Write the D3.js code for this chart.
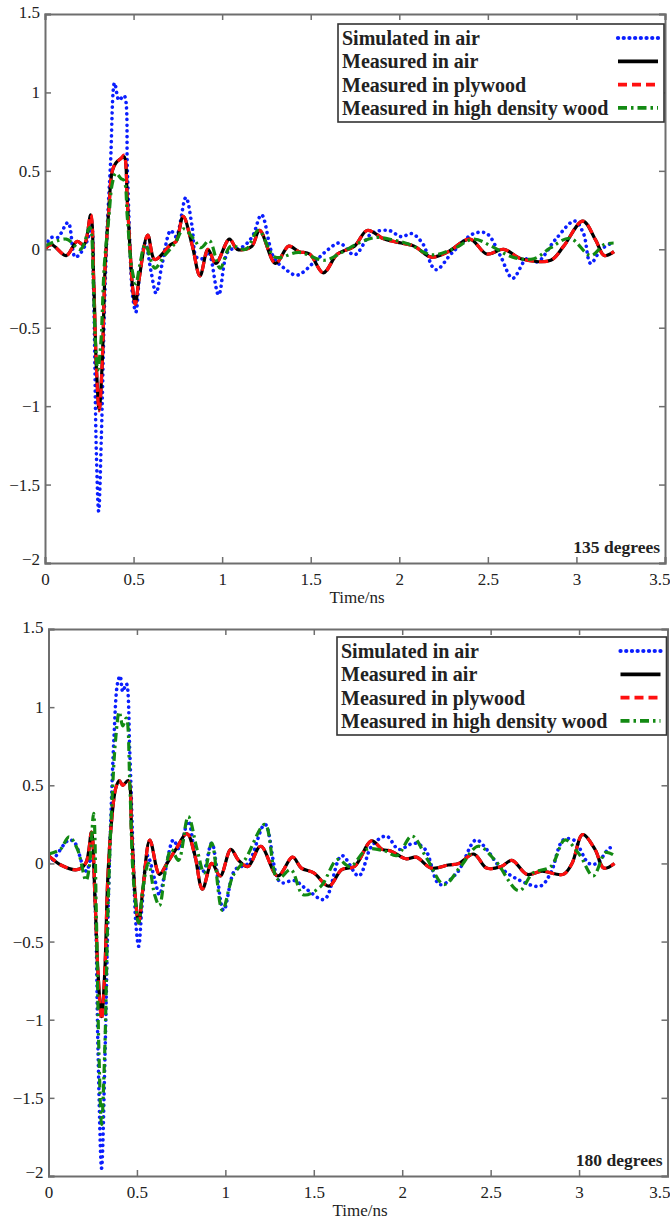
<!DOCTYPE html>
<html>
<head>
<meta charset="utf-8">
<script src="https://cdn.jsdelivr.net/npm/d3@7"></script>
<style>
  html, body { margin: 0; padding: 0; background: #fff; }
  svg { display: block; }
  text { font-family: "Liberation Serif", "Times New Roman", serif; fill: #222; }
</style>
</head>
<body>
<svg id="chart" width="670" height="1222"></svg>
<script>
// ---- Axis ticks ----
const xTicks = [0, 0.5, 1, 1.5, 2, 2.5, 3, 3.5];
const yTicks = [1.5, 1, 0.5, 0, -0.5, -1, -1.5, -2];
const seriesNames = ["Simulated in air", "Measured in air", "Measured in plywood", "Measured in high density wood"];

// ---- 135 degrees: [time (ns), amplitude] ----
const sim135 = [[0,0.02],[0.036,0.075],[0.072,0.075],[0.13,0.17],[0.17,-0.05],[0.2,-0.025],[0.24,0.06],[0.262,0.15],[0.275,-0.3],[0.29,-1.3],[0.303,-1.67],[0.318,-1.2],[0.335,-0.4],[0.35,0.1],[0.37,0.55],[0.393,1.06],[0.418,0.95],[0.446,0.98],[0.465,0.5],[0.48,0.0],[0.495,-0.3],[0.513,-0.40],[0.535,-0.15],[0.566,0.04],[0.6,-0.15],[0.627,-0.28],[0.66,-0.1],[0.71,0.12],[0.74,0.08],[0.795,0.33],[0.83,0.15],[0.855,-0.05],[0.89,-0.06],[0.923,-0.02],[0.98,-0.29],[1.036,-0.01],[1.108,0.01],[1.17,0.08],[1.222,0.22],[1.29,-0.05],[1.35,-0.12],[1.422,-0.165],[1.53,-0.07],[1.6,0.0],[1.663,0.04],[1.747,-0.035],[1.843,0.1],[1.94,0.12],[2.012,0.08],[2.07,0.1],[2.13,0.04],[2.205,-0.13],[2.30,-0.02],[2.42,0.1],[2.494,0.1],[2.57,-0.04],[2.64,-0.185],[2.72,-0.06],[2.78,-0.08],[2.88,0.06],[2.99,0.18],[3.04,0.1],[3.08,-0.09],[3.14,0.0],[3.2,0.04]];
const air135 = [[0,0.0],[0.036,0.03],[0.12,-0.04],[0.18,0.05],[0.22,0.03],[0.258,0.22],[0.275,-0.2],[0.29,-0.75],[0.306,-1.02],[0.322,-0.75],[0.34,-0.1],[0.36,0.25],[0.38,0.5],[0.40,0.55],[0.43,0.58],[0.446,0.59],[0.465,0.3],[0.48,0.0],[0.495,-0.25],[0.51,-0.35],[0.53,-0.2],[0.58,0.09],[0.62,-0.065],[0.71,0.03],[0.74,0.05],[0.78,0.21],[0.83,0.03],[0.875,-0.17],[0.92,0.0],[0.964,-0.09],[1.041,0.065],[1.084,0.0],[1.133,0.0],[1.169,0.02],[1.212,0.12],[1.301,-0.09],[1.376,0.02],[1.434,-0.015],[1.494,-0.03],[1.571,-0.15],[1.651,-0.03],[1.747,0.02],[1.819,0.12],[1.916,0.065],[2.012,0.04],[2.084,0.02],[2.181,-0.05],[2.277,-0.015],[2.398,0.065],[2.494,-0.03],[2.590,0.0],[2.687,-0.06],[2.855,-0.07],[2.928,0.02],[3.036,0.18],[3.108,0.06],[3.157,-0.04],[3.212,-0.015]];
const ply135 = [[0,0.0],[0.036,0.03],[0.12,-0.04],[0.18,0.05],[0.22,0.03],[0.258,0.22],[0.275,-0.2],[0.29,-0.75],[0.306,-1.03],[0.322,-0.75],[0.34,-0.1],[0.36,0.25],[0.38,0.5],[0.40,0.55],[0.43,0.58],[0.446,0.60],[0.465,0.3],[0.48,0.0],[0.495,-0.25],[0.51,-0.35],[0.53,-0.2],[0.58,0.09],[0.62,-0.065],[0.71,0.03],[0.74,0.05],[0.78,0.21],[0.83,0.03],[0.875,-0.17],[0.92,0.0],[0.964,-0.09],[1.041,0.065],[1.084,0.0],[1.133,0.0],[1.169,0.02],[1.212,0.12],[1.301,-0.09],[1.376,0.02],[1.434,-0.015],[1.494,-0.03],[1.571,-0.15],[1.651,-0.03],[1.747,0.02],[1.819,0.12],[1.916,0.065],[2.012,0.04],[2.084,0.02],[2.181,-0.05],[2.277,-0.015],[2.398,0.065],[2.494,-0.03],[2.590,0.0],[2.687,-0.06],[2.855,-0.07],[2.928,0.02],[3.036,0.18],[3.108,0.06],[3.157,-0.04],[3.212,-0.015]];
const hdw135 = [[0,0.02],[0.12,0.065],[0.2,0.0],[0.253,0.14],[0.272,-0.2],[0.285,-0.6],[0.298,-0.77],[0.315,-0.6],[0.335,-0.1],[0.36,0.2],[0.38,0.42],[0.40,0.485],[0.43,0.45],[0.446,0.44],[0.465,0.2],[0.49,-0.12],[0.513,-0.22],[0.535,-0.1],[0.566,0.03],[0.62,-0.12],[0.675,-0.04],[0.735,0.04],[0.783,0.13],[0.843,0.06],[0.88,0.01],[0.928,0.055],[0.988,-0.12],[1.048,0.02],[1.133,0.0],[1.205,0.12],[1.3,-0.05],[1.434,-0.02],[1.578,-0.07],[1.675,-0.02],[1.771,0.04],[1.867,0.075],[1.964,0.06],[2.06,0.03],[2.18,-0.035],[2.30,0.0],[2.42,0.065],[2.52,0.02],[2.64,-0.05],[2.76,-0.06],[2.855,0.01],[2.964,0.07],[3.08,-0.04],[3.157,0.03],[3.21,0.04]];

// ---- 180 degrees: [time (ns), amplitude] ----
const sim180 = [[0.0,0.0],[0.03,0.03],[0.116,0.15],[0.15,0.13],[0.19,0.0],[0.215,-0.05],[0.245,0.05],[0.265,-0.3],[0.28,-1.2],[0.30,-1.95],[0.318,-1.3],[0.335,-0.4],[0.35,0.2],[0.37,0.8],[0.39,1.15],[0.405,1.2],[0.42,1.1],[0.44,1.15],[0.46,0.7],[0.48,0.0],[0.495,-0.4],[0.51,-0.53],[0.53,-0.25],[0.56,0.05],[0.6,-0.1],[0.627,-0.2],[0.66,-0.05],[0.706,0.15],[0.74,0.09],[0.79,0.27],[0.84,0.0],[0.875,-0.05],[0.923,0.13],[0.99,-0.3],[1.055,-0.04],[1.128,0.0],[1.224,0.25],[1.31,-0.12],[1.39,-0.11],[1.465,-0.17],[1.56,-0.23],[1.658,0.05],[1.754,-0.08],[1.827,0.11],[1.91,0.175],[1.98,0.09],[2.067,0.13],[2.13,0.09],[2.212,-0.135],[2.31,-0.06],[2.417,0.15],[2.477,0.09],[2.55,-0.02],[2.65,-0.1],[2.78,-0.145],[2.84,-0.06],[2.91,0.15],[2.97,0.15],[3.055,0.0],[3.1,0.0],[3.175,0.1],[3.2,0.09]];
const air180 = [[0,0.05],[0.07,-0.01],[0.16,-0.04],[0.21,0.0],[0.243,0.2],[0.262,-0.2],[0.28,-0.7],[0.30,-0.98],[0.318,-0.7],[0.335,-0.1],[0.355,0.25],[0.38,0.48],[0.40,0.53],[0.42,0.50],[0.45,0.53],[0.47,0.2],[0.49,-0.2],[0.51,-0.38],[0.535,-0.15],[0.573,0.15],[0.627,-0.07],[0.67,0.0],[0.72,0.09],[0.783,0.19],[0.826,0.06],[0.87,-0.165],[0.923,0.0],[0.971,-0.08],[1.031,0.09],[1.075,0.02],[1.128,-0.02],[1.2,0.11],[1.296,-0.08],[1.38,0.04],[1.43,-0.03],[1.5,-0.06],[1.585,-0.145],[1.658,-0.04],[1.73,-0.02],[1.827,0.145],[1.887,0.09],[1.935,0.08],[2.02,0.03],[2.08,0.04],[2.164,-0.03],[2.26,-0.01],[2.32,0.0],[2.405,0.06],[2.477,-0.03],[2.56,-0.02],[2.62,0.02],[2.706,-0.07],[2.79,-0.05],[2.91,-0.07],[2.96,0.0],[3.02,0.185],[3.09,0.09],[3.14,-0.03],[3.2,0.0]];
const ply180 = [[0,0.05],[0.07,-0.01],[0.16,-0.04],[0.21,0.0],[0.243,0.2],[0.262,-0.2],[0.28,-0.7],[0.30,-1.0],[0.318,-0.7],[0.335,-0.1],[0.355,0.25],[0.38,0.48],[0.40,0.53],[0.42,0.50],[0.45,0.53],[0.47,0.2],[0.49,-0.2],[0.51,-0.38],[0.535,-0.15],[0.573,0.15],[0.627,-0.07],[0.67,0.0],[0.72,0.09],[0.783,0.19],[0.826,0.06],[0.87,-0.165],[0.923,0.0],[0.971,-0.08],[1.031,0.09],[1.075,0.02],[1.128,-0.02],[1.2,0.11],[1.296,-0.08],[1.38,0.04],[1.43,-0.03],[1.5,-0.06],[1.585,-0.145],[1.658,-0.04],[1.73,-0.02],[1.827,0.145],[1.887,0.09],[1.935,0.08],[2.02,0.03],[2.08,0.04],[2.164,-0.03],[2.26,-0.01],[2.32,0.0],[2.405,0.06],[2.477,-0.03],[2.56,-0.02],[2.62,0.02],[2.706,-0.07],[2.79,-0.05],[2.91,-0.07],[2.96,0.0],[3.02,0.185],[3.09,0.09],[3.14,-0.03],[3.2,0.0]];
const hdw180 = [[0,0.06],[0.067,0.09],[0.116,0.17],[0.164,0.09],[0.212,-0.11],[0.23,-0.03],[0.255,0.32],[0.27,-0.3],[0.285,-1.2],[0.30,-1.67],[0.318,-1.2],[0.335,-0.35],[0.355,0.3],[0.38,0.8],[0.40,0.97],[0.42,0.88],[0.44,0.93],[0.46,0.5],[0.48,-0.1],[0.51,-0.38],[0.535,-0.15],[0.565,0.0],[0.6,-0.2],[0.627,-0.27],[0.66,-0.05],[0.694,0.09],[0.735,0.02],[0.79,0.3],[0.84,0.09],[0.88,-0.06],[0.923,0.13],[0.983,-0.3],[1.043,-0.08],[1.115,0.03],[1.224,0.25],[1.296,-0.1],[1.37,-0.04],[1.44,-0.2],[1.537,-0.15],[1.634,0.025],[1.706,-0.02],[1.80,0.09],[1.9,0.08],[1.97,0.05],[2.055,0.175],[2.14,0.03],[2.236,-0.135],[2.33,-0.02],[2.43,0.11],[2.525,0.02],[2.66,-0.175],[2.74,-0.06],[2.84,-0.02],[2.92,0.15],[3.0,0.06],[3.08,-0.08],[3.15,0.07],[3.2,0.05]];

// ---- Line styles for the four series (legend order) ----
const styles = [
  { color: "#0a1eff", dash: "0.1 5.6", cap: "round", width: 3.6 },
  { color: "#000000", dash: null,      cap: "butt",  width: 3.2 },
  { color: "#ff1010", dash: "9 5",     cap: "butt",  width: 3.2 },
  { color: "#138a13", dash: "9 4 2.5 4", cap: "butt", width: 3.2 }
];

const serif = '"Liberation Serif", "Times New Roman", serif';
const svg = d3.select("#chart");

function drawPanel(cfg) {
  const { left, right, top, bottom, series, label } = cfg;
  const x = d3.scaleLinear().domain([0, 3.5]).range([left, right]);
  const y = d3.scaleLinear().domain([-2, 1.5]).range([bottom, top]);
  const g = svg.append("g");

  // curves, clipped to the plot box
  const clipId = "clip" + Math.round(top);
  svg.append("clipPath").attr("id", clipId)
    .append("rect").attr("x", left).attr("y", top)
    .attr("width", right - left).attr("height", bottom - top);

  const line = d3.line()
    .x(d => x(d[0])).y(d => y(d[1]))
    .curve(d3.curveCatmullRom.alpha(0.5));

  const lines = g.append("g").attr("clip-path", `url(#${clipId})`);
  series.forEach((s, i) => {
    const st = styles[i];
    lines.append("path")
      .attr("d", line(s))
      .attr("fill", "none")
      .attr("stroke", st.color)
      .attr("stroke-width", st.width)
      .attr("stroke-linecap", st.cap)
      .attr("stroke-linejoin", "round")
      .attr("stroke-dasharray", st.dash);
  });

  // axes (ticks pointing inward, box on all four sides)
  const axisColor = "#6e6e6e";
  const tl = 6;
  const axB = g.append("g").attr("transform", `translate(0,${bottom})`)
    .call(d3.axisBottom(x).tickValues(xTicks).tickSize(-tl).tickPadding(tl + 4).tickFormat(d3.format("")));
  const axT = g.append("g").attr("transform", `translate(0,${top})`)
    .call(d3.axisTop(x).tickValues(xTicks).tickSize(-tl).tickFormat(""));
  const axL = g.append("g").attr("transform", `translate(${left},0)`)
    .call(d3.axisLeft(y).tickValues(yTicks).tickSize(-tl).tickPadding(5).tickFormat(d3.format("")));
  const axR = g.append("g").attr("transform", `translate(${right},0)`)
    .call(d3.axisRight(y).tickValues(yTicks).tickSize(-tl).tickFormat(""));
  [axB, axT, axL, axR].forEach(a => {
    a.select(".domain").attr("stroke", axisColor).attr("stroke-width", 2);
    a.selectAll(".tick line").attr("stroke", axisColor).attr("stroke-width", 1.5);
  });
  [axB, axL].forEach(a => a.selectAll(".tick text")
    .style("font-size", "17px").style("font-family", serif).attr("fill", "#222"));
  // keep the last x label inside the frame
  axB.selectAll(".tick").filter(d => d === 3.5).select("text")
    .attr("text-anchor", "end").attr("x", 670 - right);
  // MATLAB places the lowest y label slightly up-left of the corner
  axL.selectAll(".tick").filter(d => d === -2).select("text").attr("dy", "0.1em");
  axL.selectAll(".tick").filter(d => d === 1.5).select("text").attr("dy", "0.2em");

  // x-axis title
  g.append("text")
    .attr("x", (left + right) / 2 + 2).attr("y", bottom + 40)
    .attr("text-anchor", "middle").style("font-size", "17px")
    .text("Time/ns");

  // angle annotation
  g.append("text")
    .attr("x", right - 5).attr("y", bottom - 10)
    .attr("text-anchor", "end").style("font-size", "17.5px").style("font-weight", "bold")
    .text(label);

  // legend
  const lg = g.append("g");
  const lx0 = cfg.legendX, ly0 = cfg.legendY, lw = right - 1 - lx0, lh = 98;
  lg.append("rect").attr("x", lx0).attr("y", ly0).attr("width", lw).attr("height", lh)
    .attr("fill", "#fff").attr("stroke", "#333").attr("stroke-width", 1.6);
  seriesNames.forEach((name, i) => {
    const ry = ly0 + 14 + i * 23.3;
    lg.append("text").attr("x", lx0 + 4).attr("y", ry).attr("dy", "0.35em")
      .style("font-size", "20px").style("font-weight", "bold").text(name);
    const st = styles[i];
    lg.append("path")
      .attr("d", d3.line()([[lx0 + lw - 46, ry], [lx0 + lw - 6, ry]]))
      .attr("stroke", st.color).attr("stroke-width", st.width + 0.6)
      .attr("stroke-linecap", st.cap).attr("stroke-dasharray", st.dash).attr("fill", "none");
  });
}

drawPanel({ left: 45, right: 665, top: 14, bottom: 563,
  series: [sim135, air135, ply135, hdw135], label: "135 degrees",
  legendX: 338, legendY: 24 });
drawPanel({ left: 48.5, right: 667.5, top: 629, bottom: 1176,
  series: [sim180, air180, ply180, hdw180], label: "180 degrees",
  legendX: 337, legendY: 637 });
</script>
</body>
</html>
